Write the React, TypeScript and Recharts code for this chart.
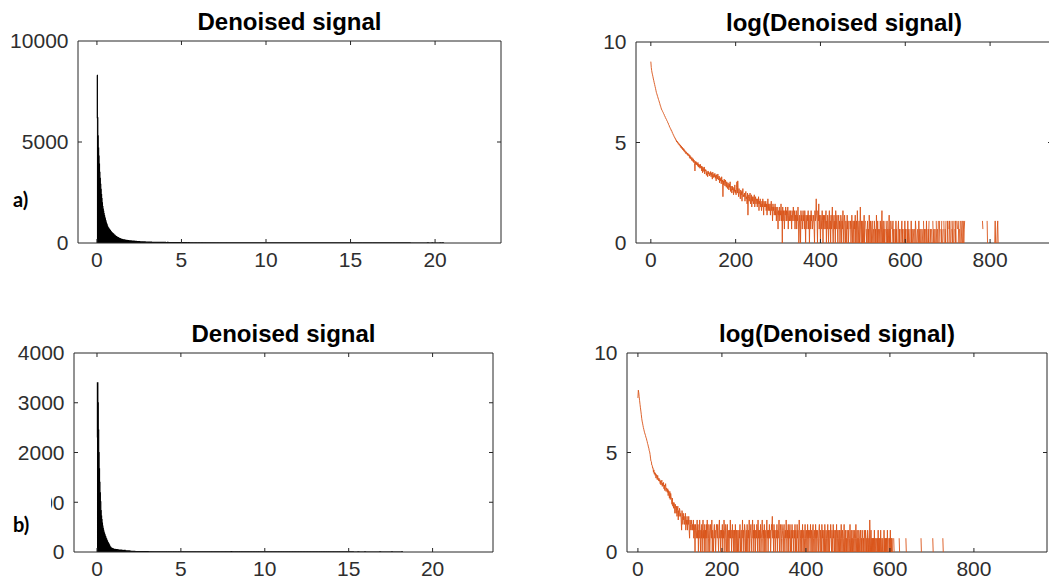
import React from 'react';
import { ComposedChart, Area, Line, XAxis, YAxis, ReferenceArea, ReferenceLine } from 'recharts';

// Histogram bin width (signal units per bin)
const BIN_WIDTH = 0.025;

// ---- Recording a): counts per bin ----
const COUNTS_A_000 = [
  8300, 6200, 5300, 4700, 4300, 3900, 3500, 3200, 2900, 2650,
  2400, 2200, 1990, 1800, 1680, 1570, 1460, 1360, 1270, 1190,
  1110, 1040, 955, 905, 835, 785, 745, 725, 685, 665,
  625, 610, 570, 555, 520, 505, 475, 465, 435, 425,
  395, 390, 360, 352, 322, 318, 296, 294, 268, 270,
  252, 236, 233, 214, 213, 196, 195, 180, 181, 166,
  168, 152, 159, 144, 150, 136, 142, 130, 136, 123,
  131, 115, 124, 110, 118, 104, 112, 99, 108, 94,
  101, 90, 95, 84, 93, 87, 80, 88, 76, 82,
  83, 70, 79, 66, 74, 72, 61, 70, 65, 58,
];
const COUNTS_A_100 = [
  66, 55, 62, 52, 36, 58, 50, 57, 49, 53,
  47, 55, 44, 51, 43, 49, 41, 50, 42, 46,
  36, 45, 33, 43, 40, 35, 44, 31, 39, 36,
  38, 29, 35, 33, 27, 36, 31, 34, 28, 32,
  30, 35, 27, 33, 29, 24, 34, 30, 26, 31,
  27, 32, 25, 29, 22, 30, 27, 24, 31, 25,
  23, 28, 20, 26, 22, 25, 19, 27, 21, 23,
  10, 22, 18, 24, 20, 17, 23, 19, 16, 21,
  18, 15, 20, 17, 14, 19, 16, 21, 13, 17,
  15, 12, 17, 14, 16, 11, 15, 13, 18, 12,
];
const COUNTS_A_200 = [
  14, 11, 16, 21, 12, 22, 13, 10, 15, 12,
  12, 9, 14, 11, 13, 8, 12, 15, 10, 11,
  10, 12, 8, 11, 13, 9, 10, 7, 12, 4,
  9, 11, 8, 10, 12, 7, 9, 11, 6, 10,
  8, 10, 7, 9, 11, 6, 8, 10, 7, 9,
  8, 6, 9, 7, 10, 5, 8, 7, 9, 6,
  7, 5, 8, 6, 9, 7, 4, 8, 6, 7,
  6, 8, 5, 7, 4, 6, 9, 5, 7, 6,
  5, 7, 4, 6, 8, 5, 6, 3, 7, 5,
  6, 4, 5, 7, 4, 6, 3, 5, 6, 4,
];
const COUNTS_A_300 = [
  2, 5, 4, 6, 3, 5, 4, 7, 3, 5,
  1, 6, 3, 5, 4, 2, 5, 4, 6, 3,
  5, 3, 4, 6, 2, 4, 5, 3, 4, 5,
  3, 4, 2, 5, 4, 3, 6, 4, 3, 5,
  2, 4, 3, 5, 2, 4, 3, 6, 3, 1,
  2, 4, 3, 1, 5, 3, 4, 2, 3, 5,
  3, 4, 2, 5, 3, 1, 4, 3, 2, 4,
  3, 5, 2, 4, 1, 3, 4, 2, 5, 3,
  4, 2, 3, 3, 4, 2, 1, 5, 3, 4,
  9, 4, 3, 1, 5, 3, 7, 2, 4, 3,
];
const COUNTS_A_400 = [
  1, 4, 3, 2, 5, 3, 1, 4, 2, 3,
  4, 2, 3, 5, 1, 3, 2, 4, 3, 1,
  3, 5, 2, 3, 1, 4, 2, 3, 6, 2,
  1, 3, 4, 2, 3, 1, 5, 2, 3, 4,
  2, 1, 3, 4, 2, 3, 1, 2, 4, 3,
  1, 3, 2, 5, 2, 1, 3, 4, 2, 1,
  3, 2, 1, 4, 2, 3, 1, 2, 3, 0,
  2, 3, 1, 2, 4, 2, 1, 3, 2, 1,
  3, 2, 4, 1, 2, 3, 1, 5, 2, 1,
  2, 3, 1, 2, 6, 2, 1, 3, 2, 1,
];
const COUNTS_A_500 = [
  3, 1, 2, 4, 1, 2, 3, 0, 2, 1,
  2, 3, 1, 2, 1, 4, 2, 1, 3, 2,
  1, 2, 3, 1, 0, 2, 1, 3, 2, 1,
  2, 1, 4, 2, 1, 3, 1, 2, 0, 2,
  1, 3, 2, 1, 2, 5, 1, 2, 3, 1,
  2, 1, 3, 0, 2, 1, 2, 3, 1, 2,
  1, 2, 4, 1, 2, 1, 3, 2, 0, 1,
  2, 3, 1, 2, 1, 0, 2, 1, 3, 1,
  2, 1, 0, 2, 3, 1, 2, 1, 2, 0,
  1, 2, 3, 1, 2, 1, 0, 2, 1, 3,
];
const COUNTS_A_600 = [
  1, 2, 1, 0, 2, 1, 3, 1, 2, 0,
  1, 2, 0, 1, 3, 1, 2, 1, 0, 2,
  1, 0, 2, 1, 3, 2, 1, 0, 1, 2,
  0, 1, 3, 1, 2, 0, 1, 2, 1, 0,
  2, 1, 0, 3, 1, 2, 1, 0, 2, 1,
  3, 1, 0, 1, 2, 1, 3, 0, 1, 2,
  1, 0, 2, 1, 0, 3, 1, 2, 0, 1,
  2, 1, 0, 3, 1, 0, 2, 1, 3, 0,
  1, 3, 0, 0, 2, 1, 3, 0, 1, 2,
  0, 3, 1, 0, 2, 1, 3, 0, 0, 1,
];
const COUNTS_A_700 = [
  3, 1, 0, 2, 3, 1, 0, 1, 3, 0,
  2, 1, 3, 0, 1, 3, 0, 2, 1, 3,
  1, 0, 3, 2, 0, 1, 3, 0, 2, 1,
  3, 0, 1, 2, 3, 1, 0, 3, 1, 2,
  3,
];
// sparse far tail: [bin, count]
const TAIL_A: [number, number][] = [
  [782, 3], [783, 2], [793, 3], [794, 1], [800, 1], [801, 1],
  [811, 1], [812, 3], [813, 1], [816, 1], [817, 2], [818, 3], [819, 1],
];

// ---- Recording b): counts per bin ----
const COUNTS_B_000 = [
  2300, 3400, 3000, 2450, 2000, 1670, 1400, 1190, 1010, 830,
  720, 650, 580, 520, 475, 435, 400, 375, 350, 320,
  305, 276, 258, 232, 218, 196, 184, 162, 153, 134,
  112, 96, 94, 79, 78, 68, 69, 55, 62, 50,
  55, 47, 52, 41, 49, 44, 38, 47, 40, 36,
  41, 35, 38, 31, 36, 29, 34, 37, 27, 32,
  28, 33, 24, 29, 22, 27, 31, 21, 25, 23,
  20, 24, 17, 22, 18, 15, 21, 14, 19, 16,
  14, 11, 15, 10, 12, 9, 12, 10, 7, 11,
  9, 7, 10, 6, 8, 10, 5, 8, 6, 9,
];
const COUNTS_B_100 = [
  8, 6, 7, 5, 3, 8, 6, 4, 7, 5,
  6, 4, 5, 7, 3, 5, 4, 6, 3, 5,
  4, 6, 3, 2, 5, 4, 3, 5, 4, 3,
  4, 3, 5, 2, 4, 3, 1, 4, 3, 2,
  3, 5, 2, 4, 1, 3, 2, 5, 3, 1,
  3, 2, 4, 1, 3, 5, 2, 3, 1, 4,
  2, 3, 1, 4, 2, 5, 3, 1, 2, 4,
  3, 1, 2, 4, 3, 2, 5, 1, 3, 2,
  1, 3, 4, 2, 3, 1, 2, 4, 3, 2,
  4, 2, 1, 3, 5, 2, 3, 1, 2, 3,
];
const COUNTS_B_200 = [
  2, 4, 1, 3, 2, 5, 3, 1, 2, 4,
  3, 1, 2, 4, 1, 3, 2, 1, 3, 2,
  5, 2, 3, 1, 2, 4, 2, 3, 1, 2,
  3, 1, 4, 2, 1, 3, 2, 1, 3, 2,
  1, 3, 2, 4, 1, 2, 3, 1, 2, 5,
  2, 3, 1, 2, 4, 3, 1, 2, 3, 1,
  4, 2, 1, 3, 2, 5, 1, 2, 3, 4,
  2, 1, 3, 5, 2, 3, 1, 4, 2, 3,
  1, 3, 2, 4, 3, 1, 5, 2, 3, 1,
  3, 2, 4, 1, 2, 3, 5, 2, 1, 3,
];
const COUNTS_B_300 = [
  2, 4, 1, 3, 2, 1, 3, 5, 2, 3,
  1, 3, 2, 4, 2, 3, 1, 2, 4, 3,
  6, 2, 3, 1, 4, 2, 3, 1, 2, 3,
  2, 4, 1, 3, 2, 3, 5, 1, 2, 4,
  3, 1, 2, 4, 3, 2, 1, 3, 4, 2,
  1, 3, 2, 5, 2, 1, 3, 2, 4, 1,
  3, 2, 4, 1, 2, 3, 1, 4, 2, 3,
  2, 1, 3, 2, 4, 1, 3, 2, 1, 4,
  2, 3, 1, 2, 5, 3, 1, 2, 3, 1,
  3, 2, 4, 1, 2, 3, 1, 2, 4, 2,
];
const COUNTS_B_400 = [
  1, 3, 2, 1, 4, 2, 3, 1, 2, 3,
  2, 4, 1, 3, 2, 1, 3, 4, 2, 1,
  3, 2, 1, 4, 2, 3, 1, 2, 3, 2,
  1, 3, 4, 2, 1, 3, 2, 1, 4, 2,
  3, 1, 2, 3, 1, 4, 2, 1, 3, 2,
  1, 2, 4, 1, 3, 2, 1, 3, 2, 4,
  2, 1, 3, 2, 1, 4, 2, 3, 1, 2,
  3, 1, 2, 4, 1, 2, 3, 1, 2, 3,
  1, 3, 2, 1, 4, 2, 1, 3, 2, 1,
  2, 4, 1, 2, 3, 1, 2, 1, 3, 2,
];
const COUNTS_B_500 = [
  1, 3, 2, 1, 2, 4, 1, 2, 3, 1,
  2, 1, 3, 2, 1, 3, 2, 1, 2, 4,
  1, 2, 3, 1, 2, 1, 3, 2, 1, 2,
  3, 1, 2, 1, 3, 2, 1, 2, 1, 3,
  2, 1, 3, 2, 1, 2, 1, 3, 2, 1,
  2, 1, 5, 2, 1, 3, 1, 2, 1, 2,
  1, 2, 1, 3, 1, 2, 1, 0, 2, 1,
  2, 1, 3, 1, 2, 1, 2, 1, 3, 1,
  1, 2, 1, 2, 0, 1, 3, 1, 2, 1,
  2, 1, 2, 1, 3, 1, 0, 2, 1, 2,
];
const COUNTS_B_600 = [
  1, 3, 1, 2, 1, 2, 1, 0, 0, 2,
  1,
];
const TAIL_B: [number, number][] = [
  [622, 2], [623, 1], [638, 2], [639, 1], [674, 2], [675, 1],
  [702, 2], [703, 1], [726, 2], [727, 1],
];

// Axis tick values
const HIST_X_TICKS = [0, 5, 10, 15, 20];
const HIST_A_Y_TICKS = [0, 5000, 10000];
const HIST_B_Y_TICKS = [0, 1000, 2000, 3000, 4000];
const LOG_X_TICKS = [0, 200, 400, 600, 800];
const LOG_Y_TICKS = [0, 5, 10];

const TITLE_HIST = 'Denoised signal';
const TITLE_LOG = 'log(Denoised signal)';

function assemble(chunks: number[][], tail: [number, number][]): number[] {
  const counts = chunks.flat();
  for (const [bin, c] of tail) {
    while (counts.length <= bin) counts.push(0);
    counts[bin] = c;
  }
  return counts;
}

const countsA = assemble(
  [COUNTS_A_000, COUNTS_A_100, COUNTS_A_200, COUNTS_A_300, COUNTS_A_400, COUNTS_A_500, COUNTS_A_600, COUNTS_A_700],
  TAIL_A,
);
const countsB = assemble(
  [COUNTS_B_000, COUNTS_B_100, COUNTS_B_200, COUNTS_B_300, COUNTS_B_400, COUNTS_B_500, COUNTS_B_600],
  TAIL_B,
);

type Pt = { x: number; y: number | null };

function histData(counts: number[]): Pt[] {
  const pts: Pt[] = counts.map((c, i) => ({ x: i * BIN_WIDTH, y: c }));
  pts.push({ x: counts.length * BIN_WIDTH, y: 0 });
  return pts;
}

function logData(counts: number[]): Pt[] {
  // empty bins give log(0) = -Inf, which leaves a gap in the trace
  return counts.map((c, i) => ({ x: i, y: c > 0 ? Math.log(c) : null }));
}

const FONT = "'Liberation Sans', Arial, Helvetica, sans-serif";
const AXIS_COLOR = '#262626';
const LABEL_COLOR = '#2e2e2e';
const TRACE_COLOR = '#D95319';
const TICK_LEN = 4; // px, ticks point into the box

const Y_AXIS_W = 80;
const TOP_PAD = 22;
const X_AXIS_H = 40;
const RIGHT_PAD = 10;

type PanelCfg = {
  left: number;
  top: number;
  width: number;
  height: number;
  xDomain: [number, number];
  xTicks: number[];
  yDomain: [number, number];
  yTicks: number[];
  data: Pt[];
  kind: 'hist' | 'log';
  title: string;
};

const PANELS: PanelCfg[] = [
  {
    left: 78, top: 41, width: 423, height: 202,
    xDomain: [-1.12, 23.9], xTicks: HIST_X_TICKS,
    yDomain: [0, 10000], yTicks: HIST_A_Y_TICKS,
    data: histData(countsA), kind: 'hist', title: TITLE_HIST,
  },
  {
    left: 636, top: 42, width: 416, height: 201,
    xDomain: [-35, 946], xTicks: LOG_X_TICKS,
    yDomain: [0, 10], yTicks: LOG_Y_TICKS,
    data: logData(countsA), kind: 'log', title: TITLE_LOG,
  },
  {
    left: 74, top: 353, width: 419, height: 199,
    xDomain: [-1.37, 23.6], xTicks: HIST_X_TICKS,
    yDomain: [0, 4000], yTicks: HIST_B_Y_TICKS,
    data: histData(countsB), kind: 'hist', title: TITLE_HIST,
  },
  {
    left: 627, top: 353, width: 420, height: 199,
    xDomain: [-26, 974], xTicks: LOG_X_TICKS,
    yDomain: [0, 10], yTicks: LOG_Y_TICKS,
    data: logData(countsB), kind: 'log', title: TITLE_LOG,
  },
];

const tickText = { fill: LABEL_COLOR, fontSize: 21, fontFamily: FONT };

// Inward tick marks on all four sides of the box, as segments in data space
function tickSegments(cfg: PanelCfg) {
  const [x0, x1] = cfg.xDomain;
  const [y0, y1] = cfg.yDomain;
  const dy = (TICK_LEN * (y1 - y0)) / cfg.height;
  const dx = (TICK_LEN * (x1 - x0)) / cfg.width;
  const segs: { x: number; y: number }[][] = [];
  cfg.xTicks.forEach((t) => {
    segs.push([{ x: t, y: y0 }, { x: t, y: y0 + dy }]);
    segs.push([{ x: t, y: y1 }, { x: t, y: y1 - dy }]);
  });
  cfg.yTicks.forEach((t) => {
    if (t === y0 || t === y1) return;
    segs.push([{ x: x0, y: t }, { x: x0 + dx, y: t }]);
    segs.push([{ x: x1, y: t }, { x: x1 - dx, y: t }]);
  });
  return segs;
}

function Panel({ cfg }: { cfg: PanelCfg }) {
  const w = Y_AXIS_W + cfg.width + RIGHT_PAD;
  const h = TOP_PAD + cfg.height + X_AXIS_H;
  return (
    <div style={{ position: 'absolute', left: cfg.left - Y_AXIS_W, top: cfg.top - TOP_PAD }}>
      <ComposedChart
        width={w}
        height={h}
        data={cfg.data}
        margin={{ top: TOP_PAD, right: RIGHT_PAD, bottom: 0, left: 0 }}
      >
        <XAxis
          xAxisId="b"
          type="number"
          dataKey="x"
          orientation="bottom"
          domain={cfg.xDomain}
          ticks={cfg.xTicks}
          allowDataOverflow
          interval={0}
          height={X_AXIS_H}
          tick={tickText}
          tickSize={0}
          tickMargin={9}
          axisLine={false}
          tickLine={false}
        />
        <YAxis
          yAxisId="l"
          type="number"
          orientation="left"
          domain={cfg.yDomain}
          ticks={cfg.yTicks}
          allowDataOverflow
          interval={0}
          width={Y_AXIS_W}
          tick={tickText}
          tickSize={0}
          tickMargin={9.5}
          axisLine={false}
          tickLine={false}
        />
        {cfg.kind === 'hist' ? (
          <Area
            xAxisId="b"
            yAxisId="l"
            type="stepAfter"
            dataKey="y"
            fill="#000"
            fillOpacity={1}
            stroke="#000"
            strokeWidth={1.2}
            dot={false}
            activeDot={false}
            isAnimationActive={false}
          />
        ) : (
          <Line
            xAxisId="b"
            yAxisId="l"
            type="linear"
            dataKey="y"
            stroke={TRACE_COLOR}
            strokeWidth={0.9}
            dot={false}
            activeDot={false}
            connectNulls={false}
            isAnimationActive={false}
          />
        )}
        {/* plot box */}
        <ReferenceArea
          xAxisId="b"
          yAxisId="l"
          x1={cfg.xDomain[0]}
          x2={cfg.xDomain[1]}
          y1={cfg.yDomain[0]}
          y2={cfg.yDomain[1]}
          fill="none"
          fillOpacity={0}
          stroke={AXIS_COLOR}
          strokeWidth={1}
          ifOverflow="visible"
        />
        {tickSegments(cfg).map((seg, i) => (
          <ReferenceLine
            key={i}
            xAxisId="b"
            yAxisId="l"
            segment={seg}
            stroke={AXIS_COLOR}
            strokeWidth={1}
            ifOverflow="visible"
          />
        ))}
      </ComposedChart>
    </div>
  );
}

export default function App() {
  return (
    <div
      style={{
        position: 'absolute',
        left: 0,
        top: 0,
        width: 1049,
        height: 585,
        overflow: 'hidden',
        background: '#fff',
      }}
    >
      {PANELS.map((p, i) => (
        <Panel key={i} cfg={p} />
      ))}
      <svg
        width={1049}
        height={585}
        style={{ position: 'absolute', left: 0, top: 0, pointerEvents: 'none' }}
      >
        {PANELS.map((p, i) => (
          <text
            key={i}
            x={p.left + p.width / 2}
            y={p.top - 11}
            textAnchor="middle"
            fontFamily={FONT}
            fontWeight={700}
            fontSize={24}
            fill="#000"
          >
            {p.title}
          </text>
        ))}
        {/* panel tags; the b) tag sits in a white box */}
        <rect x={0} y={492} width={51} height={53} fill="#fff" />
        <text x={13} y={207} fontFamily="Lato, 'Open Sans', sans-serif" fontWeight={700} fontSize={20} fill="#000">
          a)
        </text>
        <text x={13} y={532} fontFamily="Lato, 'Open Sans', sans-serif" fontWeight={700} fontSize={20} fill="#000">
          b)
        </text>
      </svg>
    </div>
  );
}
